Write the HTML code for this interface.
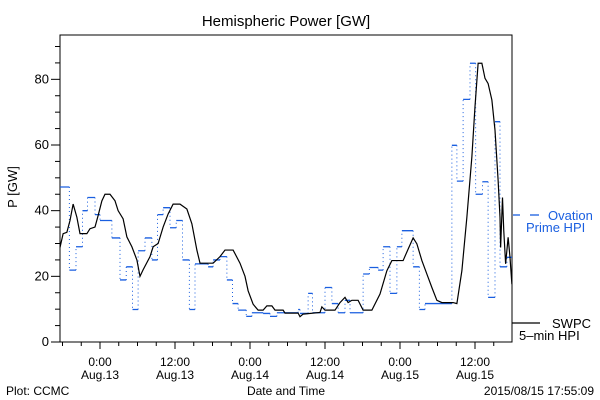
<!DOCTYPE html>
<html><head><meta charset="utf-8"><style>
body{margin:0;background:#fff;}
svg{display:block;font-family:"Liberation Sans",sans-serif;}
</style></head><body>
<svg id="chart" width="600" height="400" viewBox="0 0 600 400" xmlns="http://www.w3.org/2000/svg">
<rect width="600" height="400" fill="#fff"/>
<text x="286" y="26" font-size="15" text-anchor="middle">Hemispheric Power [GW]</text>
<text transform="translate(17,187) rotate(-90)" font-size="13" text-anchor="middle">P [GW]</text>
<text x="286" y="395" font-size="12" text-anchor="middle">Date and Time</text>
<text x="6" y="395" font-size="12">Plot: CCMC</text>
<text x="594" y="395" font-size="12" text-anchor="end">2015/08/15 17:55:09</text>
<g id="axes"></g>
<g id="series"></g>
<g>
<line x1="513" y1="215" x2="520" y2="215" stroke="#1a5fe0" stroke-width="1.3"/>
<line x1="530" y1="215" x2="539" y2="215" stroke="#1a5fe0" stroke-width="1.3"/>
<text x="548" y="220" font-size="13" fill="#1a5fe0">Ovation</text>
<text x="526" y="232" font-size="13" fill="#1a5fe0">Prime HPI</text>
<line x1="512" y1="323" x2="540" y2="323" stroke="#000" stroke-width="1.2"/>
<text x="552" y="328" font-size="13">SWPC</text>
<text x="519" y="340" font-size="13">5–min HPI</text>
</g>
</svg>
<script>
// hours relative to Aug.13 00:00
const swpcHours=[-6.4,-5.9,-5.3,-4.8,-4.3,-3.7,-3.2,-2.1,-1.6,-0.8,-0.3,0.3,0.8,1.6,2.4,2.9,3.7,4.3,5.1,5.9,6.4,6.9,8,8.5,9.3,10.1,10.9,11.7,12.8,13.9,14.7,15.5,16,18.1,19.2,20,21.3,22.4,23.2,23.7,24.5,25.3,26.1,26.7,27.5,28,29.3,29.6,31.7,32,32.5,35.2,35.5,36,37.6,38.4,39.2,39.7,40.3,41.3,42.1,43.5,44.8,45.9,46.7,48.5,49.3,50.1,50.7,51.5,52.3,53.1,53.9,54.7,56.5,57.1,57.9,58.7,59.5,60,60.5,61.1,61.6,62.1,62.7,63.2,63.7,64,64.1,64.4,64.6,64.9,65.3,65.6,65.9];
const swpcValues=[28.8,33,33.4,37,42,38,33,33,34.5,35,38.5,43,45,45,43,40,37.5,32,29,25,20,22,26,29,30,35,39,42,42,40.5,36,28,24,24,26,28,28,24,20,15.6,11.5,9.7,9.7,11,11,9.7,9.7,8.8,8.8,7.7,8.5,9,10.7,9.7,9.7,12,13.6,12,12.7,12.7,9.7,9.7,14.6,21.7,24.8,24.8,28.3,31.7,29.9,24.8,20.7,16.6,12.7,12,12,11.7,21.7,38,56.4,71.7,84.9,84.9,80.3,78.7,73.7,64.5,49.2,38,28.8,44,34,23.8,31.9,25.8,17.6];
const ovationStarts=[-6.4,-4.9,-3.84,-2.8,-2,-0.8,0,1.9,3.2,4.2,5.2,6.1,7.2,8.3,9.2,10.1,11.2,12.2,13.2,14.3,15.2,17.3,18.1,19.2,20.3,21.2,22.1,23.4,24.3,26.1,27.2,28.3,31.7,32,33.3,34,36,37.1,38.1,39.2,40,42.1,43.1,44.5,45.3,46.4,47.5,48.3,50.1,51.1,52,56.3,57.1,58.1,59.2,60.1,61.2,62.1,63.2,64,65.1];
const ovationValues=[47.2,21.9,29,40,44,38.8,37,31.7,18.9,22.9,9.9,27.8,31.7,25,38.8,40.9,34.8,37,25,9.9,23.8,22.9,25,26,18.9,11.7,9.7,7.8,8.9,8.7,7.8,8.9,9.9,8.7,14.8,8.9,16.6,11.7,8.9,12.7,8.9,20.7,22.7,21.9,29,14.8,29,33.9,22.9,9.9,11.7,59.9,49,73.9,84.9,45,48.8,13.6,67.1,22.9,25.8];
const yTicks=[0,20,40,60,80];
const xTickHours=[0,12,24,36,48,60];
const xTickLabels=["0:00","12:00","0:00","12:00","0:00","12:00"];
const xTickDates=["Aug.13","Aug.13","Aug.14","Aug.14","Aug.15","Aug.15"];
const X0=60,X1=512,Y0=35,Y1=342;
const tMin=-6.4,tMax=65.92,vMax=93.5;
function xs(t){return X0+(t-tMin)/(tMax-tMin)*(X1-X0);}
function ys(v){return Y1-v/vMax*(Y1-Y0);}
const NS="http://www.w3.org/2000/svg";
function mk(tag,attrs,parent){const e=document.createElementNS(NS,tag);for(const k in attrs)e.setAttribute(k,attrs[k]);parent.appendChild(e);return e;}
const axes=document.getElementById('axes'),series=document.getElementById('series');
let f=mk('rect',{x:X0,y:Y0,width:X1-X0,height:Y1-Y0,fill:'none',stroke:'#000','stroke-width':1},axes);


for(let v=0;v<=vMax;v+=5){
 const major=v%20===0;
 let l=mk('line',{x1:X0-(major?9:5),x2:X0,y1:ys(v),y2:ys(v),stroke:'#000'},axes);
 
 
}
yTicks.forEach(v=>{
 let t=mk('text',{x:X0-11,y:ys(v)+4,'font-size':13,'text-anchor':'end'},axes);t.textContent=v;
 
 
});
for(let h=-6;h<=tMax;h+=3){
 const major=h%12===0;
 let l=mk('line',{x1:xs(h),x2:xs(h),y1:Y1,y2:Y1+(major?7:4),stroke:'#000'},axes);
 
 
}
xTickHours.forEach((h,i)=>{
 let t=mk('text',{x:xs(h),y:366,'font-size':12,'text-anchor':'middle'},axes);t.textContent=xTickLabels[i];
 
 
 let d=mk('text',{x:xs(h),y:379,'font-size':12,'text-anchor':'middle'},axes);d.textContent=xTickDates[i];
 
 
});
// Ovation step
let hp='',vp='';
for(let i=0;i<ovationStarts.length;i++){
 const a=xs(ovationStarts[i]),b=xs(i+1<ovationStarts.length?ovationStarts[i+1]:tMax),y=ys(ovationValues[i]);
 hp+=`M${a},${y}H${b}`;
 if(i+1<ovationStarts.length)vp+=`M${b},${y}V${ys(ovationValues[i+1])}`;
}
let ov=mk('path',{d:vp,fill:'none',stroke:'#1a5fe0','stroke-width':1,'stroke-dasharray':'1,3'},series);


let oh=mk('path',{d:hp,fill:'none',stroke:'#1a5fe0','stroke-width':1.3},series);


let sp=swpcHours.map((h,i)=>(i?'L':'M')+xs(h)+','+ys(swpcValues[i])).join('');
let sw=mk('path',{d:sp,fill:'none',stroke:'#000','stroke-width':1.2},series);


</script>
</body></html>
